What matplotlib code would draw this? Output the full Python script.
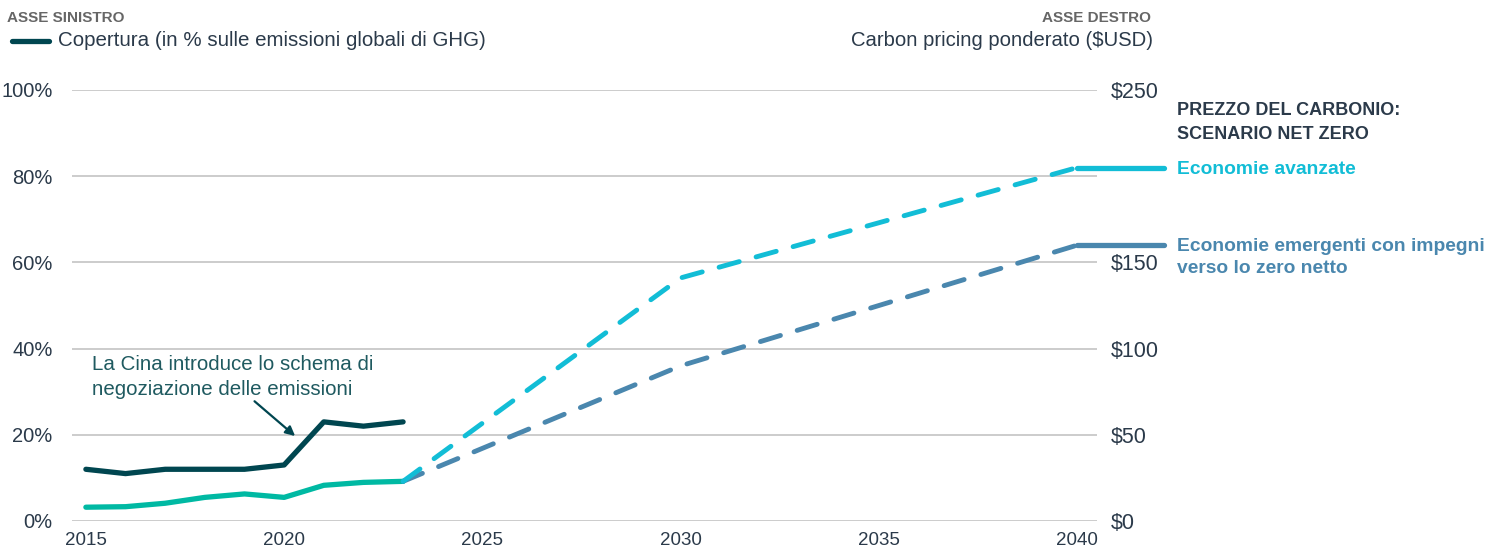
import matplotlib
matplotlib.use('Agg')
import matplotlib.pyplot as plt
from matplotlib.lines import Line2D

plt.rcParams['font.family'] = ['Liberation Sans', 'DejaVu Sans']

# copertura (% emissioni globali GHG) - asse sinistro
anni = [2015, 2016, 2017, 2018, 2019, 2020, 2021, 2022, 2023]
copertura = [12, 11, 12, 12, 12, 13, 23, 22, 23]
# carbon pricing ponderato ($USD) - asse destro
prezzo = [8, 8.3, 10.3, 13.7, 15.7, 13.7, 20.7, 22.4, 23]
# scenario net zero
anni_nz = [2023, 2030, 2040]
avanzate = [23, 141, 205]
emergenti = [23, 90, 160]

C_DARK = '#004650'
C_GREEN = '#00b9a3'
C_CYAN = '#12bdd6'
C_BLUE = '#4a87ae'
C_TEXT = '#2b3a4a'
C_GRID = '#c8c8c8'

fig = plt.figure(figsize=(15.04, 5.55), dpi=100)
ax = fig.add_axes([72/1504, 34/555, 1025/1504, 431/555])
ax2 = ax.twinx()

ax.set_xlim(2014.65, 2040.5)
ax.set_ylim(0, 100)
ax2.set_ylim(0, 250)

ax.set_yticks([0, 20, 40, 60, 80, 100])
ax.set_yticklabels(['0%', '20%', '40%', '60%', '80%', '100%'])
ax2.set_yticks([0, 50, 100, 150, 200, 250])
ax2.set_yticklabels(['$0', '$50', '$100', '$150', '', '$250'])
ax.set_xticks([2015, 2020, 2025, 2030, 2035, 2040])

ax.grid(axis='y', color=C_GRID, lw=1.3)
ax.set_axisbelow(True)
for a in (ax, ax2):
    for s in a.spines.values():
        s.set_visible(False)
    a.tick_params(length=0, labelsize=14.5, colors=C_TEXT)
ax.tick_params(axis='y', pad=14)
ax2.tick_params(axis='y', pad=10, labelsize=15.5)
ax.tick_params(axis='x', pad=8, labelsize=13.5)

ax.plot(anni, copertura, color=C_DARK, lw=3.8, solid_capstyle='round', solid_joinstyle='round', zorder=5)
ax2.plot(anni, prezzo, color=C_GREEN, lw=3.8, solid_capstyle='round', solid_joinstyle='round')

for serie, col in ((emergenti, C_BLUE), (avanzate, C_CYAN)):
    ax2.plot(anni_nz, serie, color=col, lw=3.5, dashes=(4.3, 3.6), dash_capstyle='round', dash_joinstyle='round')
    ax2.plot([anni_nz[-1], 2042.2], [serie[-1], serie[-1]], color=col, lw=3.8,
             solid_capstyle='round', clip_on=False)

# annotazione
ax.text(2015.15, 33.3, 'La Cina introduce lo schema di\nnegoziazione delle emissioni',
        fontsize=14.8, color='#1f5a60', va='center', ha='left', linespacing=1.4)
ax.annotate('', xy=(2020.33, 19.3), xytext=(2019.2, 28.2),
            arrowprops=dict(arrowstyle='-|>', color=C_DARK, lw=1.6, mutation_scale=14))

# legenda / intestazioni
fig.text(7/1504, 1-18/555, 'ASSE SINISTRO', fontsize=11, fontweight='bold', color='#666666', va='center')
fig.add_artist(Line2D([12/1504, 49/1504], [1-41/555, 1-41/555], color=C_DARK, lw=3.8,
                      solid_capstyle='round'))
fig.text(58/1504, 1-41/555, 'Copertura (in % sulle emissioni globali di GHG)', fontsize=14.8,
         color=C_TEXT, va='center')
fig.text(1151/1504, 1-18/555, 'ASSE DESTRO', fontsize=11, fontweight='bold', color='#666666',
         va='center', ha='right')
fig.text(1153/1504, 1-41/555, 'Carbon pricing ponderato ($USD)', fontsize=14.6, color=C_TEXT,
         va='center', ha='right')

fig.text(1177/1504, 1-122.5/555, 'PREZZO DEL CARBONIO:\nSCENARIO NET ZERO', fontsize=13,
         fontweight='bold', color=C_TEXT, va='center', linespacing=1.5)
fig.text(1177/1504, 1-169/555, 'Economie avanzate', fontsize=13.9, fontweight='bold',
         color=C_CYAN, va='center')
fig.text(1177/1504, 1-257.5/555, 'Economie emergenti con impegni\nverso lo zero netto', fontsize=13.9,
         fontweight='bold', color=C_BLUE, va='center', linespacing=1.4)

fig.savefig('out.png', dpi=100)
